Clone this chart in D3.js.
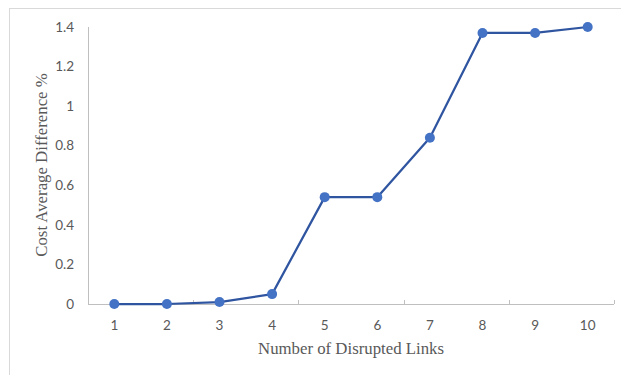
<!DOCTYPE html>
<html><head><meta charset="utf-8">
<script src="https://cdn.jsdelivr.net/npm/d3@7"></script>
<style>body{margin:0;background:#fff}svg{display:block}</style>
</head><body>
<svg id="c" width="621" height="375"></svg>
<script>
const categories = ["1","2","3","4","5","6","7","8","9","10"];
const values = [0, 0, 0.01, 0.05, 0.54, 0.54, 0.84, 1.37, 1.37, 1.40];
const yTicks = [0, 0.2, 0.4, 0.6, 0.8, 1, 1.2, 1.4];
const xTitle = "Number of Disrupted Links";
const yTitle = "Cost Average Difference %";

const svg = d3.select("#c");
const m = {left: 88, right: 614, top: 27, bottom: 304};

svg.append("rect").attr("x", 9.5).attr("y", 8.5).attr("width", 640).attr("height", 400)
  .attr("fill", "none").attr("stroke", "#d9d9d9").attr("stroke-width", 1);

const x = d3.scaleBand().domain(categories).range([m.left, m.right]);
const y = d3.scaleLinear().domain([0, 1.4]).range([m.bottom, m.top]);

// y axis line
svg.append("line").attr("x1", m.left + 0.5).attr("x2", m.left + 0.5)
  .attr("y1", m.top).attr("y2", m.bottom).attr("stroke", "#bfbfbf").attr("stroke-width", 1);

// y tick labels
svg.append("g").selectAll("text").data(yTicks).join("text")
  .attr("x", 74).attr("y", d => y(d)).attr("dy", "0.35em")
  .attr("text-anchor", "end").attr("font-family", "Lato, 'Open Sans', sans-serif")
  .attr("font-size", 13.5).attr("fill", "#595959")
  .text(d => d3.format("~g")(d));

// x axis
svg.append("line").attr("x1", m.left).attr("x2", m.right)
  .attr("y1", m.bottom + 0.5).attr("y2", m.bottom + 0.5).attr("stroke", "#bfbfbf").attr("stroke-width", 1);
const bounds = categories.map((c, i) => i).filter(i => i % 2 === 1).map(i => x(categories[i]) + x.bandwidth());
svg.append("g").selectAll("line").data(bounds).join("line")
  .attr("x1", d => Math.round(d) + 0.5).attr("x2", d => Math.round(d) + 0.5)
  .attr("y1", m.bottom - 4).attr("y2", m.bottom).attr("stroke", "#bfbfbf");

svg.append("g").selectAll("text").data(categories).join("text")
  .attr("x", d => x(d) + x.bandwidth() / 2).attr("y", 330)
  .attr("text-anchor", "middle").attr("font-family", "Lato, 'Open Sans', sans-serif")
  .attr("font-size", 13.5).attr("fill", "#595959").text(d => d);

// titles
svg.append("text").attr("x", 351).attr("y", 354).attr("text-anchor", "middle")
  .attr("font-family", "'Liberation Serif', 'Times New Roman', serif").attr("font-size", 16.8)
  .attr("fill", "#595959").text(xTitle);
svg.append("text").attr("transform", "translate(47,165) rotate(-90)").attr("text-anchor", "middle")
  .attr("font-family", "'Liberation Serif', 'Times New Roman', serif").attr("font-size", 16.8)
  .attr("fill", "#595959").text(yTitle);

// line
const pts = categories.map((c, i) => [x(c) + x.bandwidth() / 2, y(values[i])]);
svg.append("path").attr("d", d3.line()(pts)).attr("fill", "none")
  .attr("stroke", "#2f55a0").attr("stroke-width", 2.25).attr("stroke-linejoin", "round");
svg.append("g").selectAll("circle").data(pts).join("circle")
  .attr("cx", d => d[0]).attr("cy", d => d[1]).attr("r", 5).attr("fill", "#4472c4");
</script>
</body></html>
